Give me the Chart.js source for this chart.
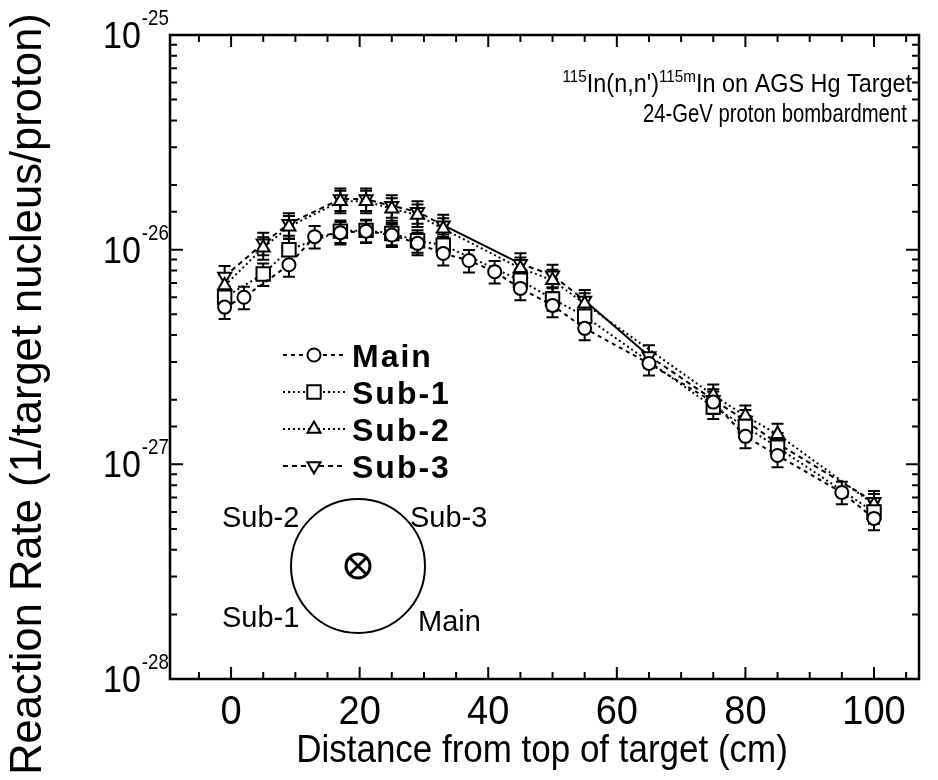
<!DOCTYPE html>
<html>
<head>
<meta charset="utf-8">
<script src="https://cdn.jsdelivr.net/npm/chart.js@4.4.1/dist/chart.umd.min.js"></script>
<style>
  body { margin: 0; background: #fff; }
  #wrap { width: 938px; height: 780px; position: relative; }
</style>
</head>
<body>
<div id="wrap"><canvas id="chart"></canvas></div>
<script>
// distance from top of target (cm) and reaction rates (1/target nucleus/proton)
const xMain = [-1, 2, 9, 13, 17, 21, 25, 29, 33, 37, 41, 45, 50, 55, 65, 75, 80, 85, 95, 100];
const mainRate = [5.4e-27, 6.0e-27, 8.5e-27, 1.15e-26, 1.2e-26, 1.22e-26, 1.17e-26, 1.07e-26, 9.6e-27, 8.9e-27,
                  7.9e-27, 6.6e-27, 5.5e-27, 4.3e-27, 2.95e-27, 1.95e-27, 1.35e-27, 1.1e-27, 7.4e-28, 5.6e-28];

const xSub = [-1, 5, 9, 17, 21, 25, 29, 33, 45, 50, 55, 75, 80, 85, 100];
const sub1Rate = [6.0e-27, 7.7e-27, 1.0e-26, 1.22e-26, 1.23e-26, 1.19e-26, 1.1e-26, 1.05e-26,
                  7.2e-27, 5.9e-27, 4.9e-27, 1.85e-27, 1.5e-27, 1.2e-27, 6.0e-28];
const sub2Rate = [6.8e-27, 1.02e-26, 1.28e-26, 1.68e-26, 1.68e-26, 1.55e-26, 1.45e-26, 1.25e-26,
                  8.2e-27, 7.2e-27, 5.6e-27, 2.1e-27, 1.68e-27, 1.38e-27, 6.5e-28];

const xSub3 = [-1, 5, 9, 17, 21, 25, 29, 33, 45, 50, 55, 65, 75, 80, 85, 100];
const sub3Rate = [7.5e-27, 1.07e-26, 1.32e-26, 1.72e-26, 1.72e-26, 1.6e-26, 1.5e-26, 1.3e-26,
                  8.6e-27, 7.6e-27, 5.8e-27, 3.2e-27, 2.0e-27, 1.6e-27, 1.25e-27, 6.7e-28];
const sub3SolidFrom = [33, 55];   // unmeasured gaps drawn solid

const xTickLabels = [0, 20, 40, 60, 80, 100];
const yDecades = [-28, -27, -26, -25];
const relErr = 0.12;

const FONT = '"Liberation Sans", Arial, Helvetica, sans-serif';

const toPts = (xs, ys) => xs.map((x, i) => ({ x: x, y: ys[i] }));

function series(label, pts, style, rot, radius, dash) {
  return {
    label: label,
    data: pts,
    showLine: true,
    fill: false,
    tension: 0,
    borderColor: '#000',
    borderWidth: 2,
    borderDash: dash,
    pointStyle: style,
    rotation: rot,
    pointRadius: radius,
    pointHoverRadius: radius,
    pointBackgroundColor: '#fff',
    pointBorderColor: '#000',
    pointBorderWidth: 2
  };
}

const sets = [
  series('Main', toPts(xMain, mainRate), 'circle', 0, 6.5, [4, 4]),
  series('Sub-1', toPts(xSub, sub1Rate), 'rect', 0, 9.5, [2, 3]),
  series('Sub-2', toPts(xSub, sub2Rate), 'triangle', 0, 7.5, [2, 3]),
  series('Sub-3', toPts(xSub3, sub3Rate), 'triangle', 180, 7.5, [5, 4])
];
sets[3].segment = {
  borderDash: c => sub3SolidFrom.includes(c.p0.parsed.x) ? [] : [5, 4]
};

function txt(ctx, s, x, y, size, opt) {
  opt = opt || {};
  ctx.save();
  ctx.font = (opt.bold ? 'bold ' : '') + size + 'px ' + FONT;
  ctx.fillStyle = '#000';
  ctx.textBaseline = opt.base || 'alphabetic';
  if (opt.gap) ctx.letterSpacing = opt.gap + 'px';
  const sx = opt.sx || 1;
  ctx.translate(x, y);
  if (opt.rot) ctx.rotate(opt.rot);
  ctx.scale(sx, 1);
  const w = ctx.measureText(s).width;
  let dx = 0;
  if (opt.align === 'center') dx = -w / 2;
  else if (opt.align === 'right') dx = -w;
  ctx.fillText(s, dx, 0);
  ctx.restore();
  return w * sx;
}

const paper = {
  id: 'paper',
  beforeDatasetsDraw(chart) {
    // error bars under the markers
    const ctx = chart.ctx, ys = chart.scales.y;
    ctx.save();
    ctx.strokeStyle = '#000';
    ctx.lineWidth = 2;
    ctx.setLineDash([]);
    chart.data.datasets.forEach((ds, i) => {
      chart.getDatasetMeta(i).data.forEach((el, j) => {
        const v = ds.data[j].y;
        const t = ys.getPixelForValue(v * (1 + relErr));
        const b = ys.getPixelForValue(v * (1 - relErr));
        ctx.beginPath();
        ctx.moveTo(el.x, t); ctx.lineTo(el.x, b);
        ctx.moveTo(el.x - 6, t); ctx.lineTo(el.x + 6, t);
        ctx.moveTo(el.x - 6, b); ctx.lineTo(el.x + 6, b);
        ctx.stroke();
      });
    });
    ctx.restore();
  },
  afterDraw(chart) {
    const ctx = chart.ctx, a = chart.chartArea;
    const xs = chart.scales.x, ys = chart.scales.y;
    ctx.save();
    ctx.strokeStyle = '#000';
    ctx.setLineDash([]);

    // frame
    ctx.lineWidth = 2.5;
    ctx.strokeRect(a.left, a.top, a.right - a.left, a.bottom - a.top);

    // inward ticks
    ctx.lineWidth = 2;
    ctx.beginPath();
    for (let v = -5; v <= 105; v += 5) {
      const px = xs.getPixelForValue(v);
      const len = v % 20 === 0 ? 12 : 7;
      ctx.moveTo(px, a.bottom); ctx.lineTo(px, a.bottom - len);
      ctx.moveTo(px, a.top); ctx.lineTo(px, a.top + len);
    }
    ys.ticks.forEach(t => {
      const py = ys.getPixelForValue(t.value);
      const lg = Math.log10(t.value);
      const len = Math.abs(lg - Math.round(lg)) < 1e-6 ? 13 : 7;
      ctx.moveTo(a.left, py); ctx.lineTo(a.left + len, py);
      ctx.moveTo(a.right, py); ctx.lineTo(a.right - len, py);
    });
    ctx.stroke();

    // x tick labels
    xTickLabels.forEach(v => {
      txt(ctx, String(v), xs.getPixelForValue(v), 724, 40, { align: 'center', sx: 0.95 });
    });
    // y tick labels 10^n
    yDecades.forEach(n => {
      const py = ys.getPixelForValue(Math.pow(10, n));
      const w = txt(ctx, '10', 103, py + 13, 37, { sx: 0.92 });
      txt(ctx, String(n), 103 + w + 1, py - 10, 22, { sx: 0.85 });
    });

    // axis titles
    txt(ctx, 'Distance from top of target (cm)', 542, 762, 38, { align: 'center', sx: 0.92 });
    txt(ctx, 'Reaction Rate (1/target nucleus/proton)', 29, 394, 43.5,
        { align: 'center', base: 'middle', rot: -Math.PI / 2 });

    // annotation, right top
    const s = 0.9;
    const parts = [['115', 17, -10], ['In(n,n\')', 26, 0], ['115m', 17, -10], ['In on AGS Hg Target', 26, 0]];
    let total = 0;
    parts.forEach(p => { ctx.font = p[1] + 'px ' + FONT; total += ctx.measureText(p[0]).width * s; });
    let cx = 912 - total;
    parts.forEach(p => { cx += txt(ctx, p[0], cx, 92 + p[2], p[1], { sx: s }); });
    txt(ctx, '24-GeV proton bombardment', 643, 122, 26, { sx: 0.78 });

    // legend
    chart.data.datasets.forEach((ds, i) => {
      const y = 355 + i * 37;
      ctx.save();
      ctx.lineWidth = 2;
      ctx.setLineDash(ds.borderDash);
      ctx.beginPath();
      ctx.moveTo(283, y); ctx.lineTo(345, y);
      ctx.stroke();
      ctx.setLineDash([]);
      ctx.fillStyle = '#fff';
      ctx.strokeStyle = '#000';
      ctx.lineWidth = 2;
      Chart.helpers.drawPoint(ctx, {
        pointStyle: ds.pointStyle, rotation: ds.rotation,
        radius: ds.pointRadius, borderWidth: 2
      }, 314, y);
      ctx.restore();
      txt(ctx, ds.label, 352, y + 12, 32, { bold: true, gap: 2 });
    });

    // cross-section sketch of the target
    ctx.lineWidth = 2;
    ctx.beginPath();
    ctx.arc(358, 566, 67, 0, Math.PI * 2);
    ctx.stroke();
    ctx.lineWidth = 3;
    ctx.beginPath();
    ctx.arc(358, 566, 12, 0, Math.PI * 2);
    ctx.moveTo(358 - 8.5, 566 - 8.5); ctx.lineTo(358 + 8.5, 566 + 8.5);
    ctx.moveTo(358 + 8.5, 566 - 8.5); ctx.lineTo(358 - 8.5, 566 + 8.5);
    ctx.stroke();
    txt(ctx, 'Sub-2', 222, 527, 29);
    txt(ctx, 'Sub-3', 410, 527, 29);
    txt(ctx, 'Sub-1', 222, 627, 29);
    txt(ctx, 'Main', 418, 631, 29);

    ctx.restore();
  }
};

new Chart(document.getElementById('chart'), {
  type: 'line',
  data: { datasets: sets },
  options: {
    responsive: true,
    maintainAspectRatio: false,
    animation: false,
    layout: { padding: { top: 35, right: 19, left: 0, bottom: 0 } },
    plugins: { legend: { display: false }, tooltip: { enabled: false } },
    scales: {
      x: {
        type: 'linear',
        min: -9.5,
        max: 107,
        grid: { display: false },
        border: { display: false },
        ticks: { display: false, stepSize: 20, includeBounds: false },
        afterFit: s => { s.height = 101; }
      },
      y: {
        type: 'logarithmic',
        min: 1e-28,
        max: 1e-25,
        grid: { display: false },
        border: { display: false },
        ticks: { display: false },
        afterFit: s => { s.width = 170; }
      }
    }
  },
  plugins: [paper]
});
</script>
</body>
</html>
